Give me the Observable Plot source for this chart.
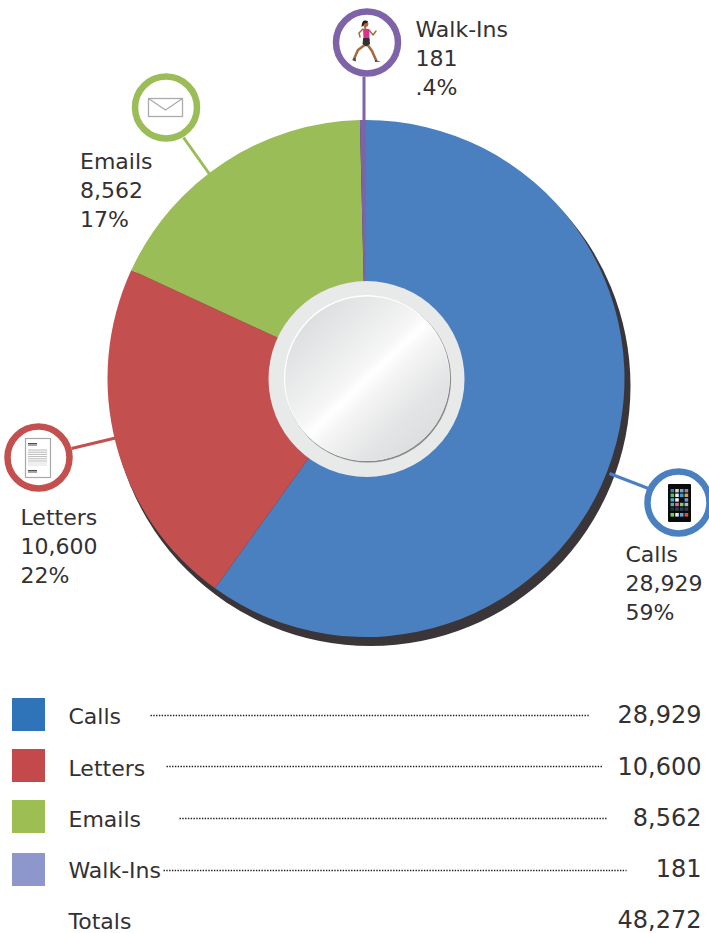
<!DOCTYPE html>
<html>
<head>
<meta charset="utf-8">
<script src="https://cdn.jsdelivr.net/npm/d3@7"></script>
<script src="https://cdn.jsdelivr.net/npm/@observablehq/plot@0.6"></script>
<style>
html,body{margin:0;padding:0;background:#fff;overflow:hidden}
svg{display:block}
</style>
</head>
<body>
<div id="chart"></div>
<script>
const categories = ["Calls", "Letters", "Emails", "Walk-Ins"];
const values = [28929, 10600, 8562, 181];
const valueLabels = ["28,929", "10,600", "8,562", "181"];
const percentLabels = ["59%", "22%", "17%", ".4%"];
const sliceColors = ["#4a80c0", "#c44f4f", "#9bbd58", "#7e63a9"];
const swatchColors = ["#2f73b8", "#c4494a", "#9cbe53", "#8e97cc"];
const totalLabel = "Totals";
const totalValue = "48,272";

const pieCenter = {x: 366, y: 378.5, r: 258.5};
const ringX = [678, 38, 165.5, 366.5];
const ringY = [502, 457, 107, 42];
const calloutX = [625, 20, 79.5, 415];
const calloutY = [541, 504, 148, 16];
const leaders = [[609, 473, 648, 488], [117, 437, 71, 448], [210, 175, 183, 137], [363.5, 122, 363.5, 76]];
const swatchTop = [698, 749, 800, 853];
const legendTextY = [716, 768, 819, 870, 921];
const legendValueY = [715, 767, 818, 869, 920];
const dotsY = [715, 766, 818, 870];
const dotsX1 = [150, 166, 179, 163];
const dotsX2 = [589, 602, 607, 626];

const rows = categories.map((name, i) => ({
  name, value: values[i], valueLabel: valueLabels[i], percent: percentLabels[i],
  color: sliceColors[i], swatch: swatchColors[i],
  ringX: ringX[i], ringY: ringY[i],
  calloutX: calloutX[i], calloutY: calloutY[i],
  callout: `${categories[i]}\n${valueLabels[i]}\n${percentLabels[i]}`,
  x1: leaders[i][0], y1: leaders[i][1], x2: leaders[i][2], y2: leaders[i][3],
  swatchTop: swatchTop[i], textY: legendTextY[i], valueY: legendValueY[i],
  dotsY: dotsY[i], dotsX1: dotsX1[i], dotsX2: dotsX2[i]
}));

const NS = "http://www.w3.org/2000/svg";
function el(tag, attrs, parent) {
  const n = document.createElementNS(NS, tag);
  for (const k in attrs) n.setAttribute(k, attrs[k]);
  if (parent) parent.appendChild(n);
  return n;
}

function defsMark() {
  const d = el("defs", {});
  const g = el("linearGradient", {id: "hub", x1: "0.12", y1: "0.1", x2: "0.88", y2: "0.9"}, d);
  [[0, "#dbdcde"], [0.3, "#eceded"], [0.44, "#f6f6f6"], [0.5, "#ffffff"], [0.58, "#f5f5f5"], [0.8, "#e3e4e5"], [1, "#dcdddf"]]
    .forEach(([o, c]) => el("stop", {offset: o, "stop-color": c}, g));
  return d;
}

function sliceMark(index, scales) {
  const g = el("g", {"aria-label": "slices"});
  const pie = d3.pie().sort(null).value(d => d.value)(rows);
  const arc = d3.arc().innerRadius(0).outerRadius(pieCenter.r);
  pie.forEach(p => {
    el("path", {
      d: arc(p),
      fill: p.data.color,
      transform: `translate(${scales.x(pieCenter.x)},${scales.y(pieCenter.y)})`
    }, g);
  });
  return g;
}

function iconMark() {
  const g = el("g", {"aria-label": "icons"});
  // envelope
  el("rect", {x: 148.5, y: 98.5, width: 34, height: 18, fill: "#fff", stroke: "#a9abae", "stroke-width": 1.3}, g);
  el("path", {d: "M148.5 98.5L165.5 110L182.5 98.5", fill: "none", stroke: "#a9abae", "stroke-width": 1.3}, g);
  // letter
  el("rect", {x: 25.5, y: 438.5, width: 25, height: 39, fill: "#fff", stroke: "#a8a8a8", "stroke-width": 1.2}, g);
  [443.5, 445].forEach(y => el("line", {x1: 28, x2: 37, y1: y, y2: y, stroke: "#222", "stroke-width": 0.8}, g));
  [470.5, 472].forEach(y => el("line", {x1: 28, x2: 37, y1: y, y2: y, stroke: "#222", "stroke-width": 0.8}, g));
  [450, 452.2, 454.4, 456.6, 458.8, 461, 463, 465].forEach((y, i) =>
    el("line", {x1: 28, x2: 47, y1: y, y2: y, stroke: i > 5 ? "#dcdcdc" : "#b0b0b0", "stroke-width": 0.9}, g));
  // phone
  el("rect", {x: 668, y: 484, width: 23, height: 38, rx: 1, fill: "#0b0b0b"}, g);
  const appColors = ["#4a7f8c", "#cfd4dc", "#7da0d8", "#8a8f99",
    "#55c06b", "#e8e8ee", "#3d9adb", "#d9a441",
    "#4fa8c8", "#f3f3f3", "#111", "#5f9fe0",
    "#4fb0a0", "#d36cb0", "#7acb7a", "#b0b7c6",
    "#20303c", "#30404c", "#30404c", "#30404c"];
  appColors.forEach((c, i) => {
    el("rect", {x: 670.5 + (i % 4) * 4.7, y: 489 + Math.floor(i / 4) * 4.6, width: 3.6, height: 3.4, fill: c}, g);
  });
  ["#6fcf5f", "#e6e6e6", "#58a8e8", "#e24a4a"].forEach((c, i) =>
    el("rect", {x: 670.5 + i * 4.7, y: 513, width: 3.6, height: 3.6, fill: c}, g));
  // runner
  const skin = "#a66a42";
  const s = (d, w = 2.2) => el("path", {d, fill: "none", stroke: skin, "stroke-width": w, "stroke-linecap": "round", "stroke-linejoin": "round"}, g);
  s("M366 44L358 50L354 59", 2.6);
  s("M367 44L372 51L376 60", 2.6);
  s("M363 29L359 33L360 37", 1.5);
  s("M369 30L373 35L376 31", 1.5);
  s("M365 26.5L365.5 29", 2);
  el("path", {d: "M363 29L369 29L369.5 38L363.5 38Z", fill: "#dd2f8e"}, g);
  el("path", {d: "M363.2 38L369.5 38L370 44L366 46.5L362.5 44Z", fill: "#33312f"}, g);
  el("circle", {cx: 365.5, cy: 24, r: 2.9, fill: skin}, g);
  el("path", {d: "M365 20.5C362.5 20.5 362 23 361.5 27C363 26 364 24.5 364.5 23.5C366 23.5 367.5 22.5 368 21.5C367 20.5 366 20.5 365 20.5Z", fill: "#2a1d18"}, g);
  el("path", {d: "M352 60L355.5 57.5L356 61.5Z", fill: "#444"}, g);
  el("path", {d: "M375 60L381 61.5L375 62Z", fill: "#444"}, g);
  return g;
}

const font = "'DejaVu Sans', Verdana, sans-serif";
const ink = "#333133";
const X = {domain: [0, 709], range: [0, 709], axis: null};
const Y = {domain: [0, 933], range: [0, 933], axis: null};

const chart = Plot.plot({
  width: 709,
  height: 933,
  margin: 0,
  x: X,
  y: Y,
  style: {background: "#fff", fontFamily: font, overflow: "hidden"},
  marks: [
    defsMark,
    // shadow crescent
    Plot.dot([pieCenter], {x: d => d.x + 4, y: d => d.y + 7, r: 260, fill: "#3a3538", stroke: "none"}),
    sliceMark,
    // leader lines
    Plot.link(rows, {x1: "x1", y1: "y1", x2: "x2", y2: "y2", stroke: "color", strokeWidth: 3}),
    // hub
    Plot.dot([pieCenter], {x: "x", y: "y", r: 98, fill: "#e8e9e9", stroke: "none"}),
    Plot.dot([pieCenter], {x: d => d.x + 1.4, y: d => d.y + 0.3, r: 83.2, fill: "#8b8b8d", stroke: "none"}),
    Plot.dot([pieCenter], {x: d => d.x + 0.4, y: d => d.y - 0.9, r: 83, fill: "#ffffff", stroke: "none"}),
    Plot.dot([pieCenter], {x: d => d.x + 0.8, y: d => d.y - 0.3, r: 82.2, fill: "url(#hub)", stroke: "none"}),
    // rings
    Plot.dot(rows, {x: "ringX", y: "ringY", r: 31, fill: "#fff", stroke: "color", strokeWidth: 6.5}),
    iconMark,
    // callouts
    Plot.text(rows, {
      x: "calloutX", y: "calloutY", text: "callout",
      textAnchor: "start", lineAnchor: "top", lineHeight: 1.31,
      fontSize: 22, fill: ink
    }),
    // legend
    Plot.rect(rows, {x1: 12, x2: 45, y1: "swatchTop", y2: d => d.swatchTop + 33, fill: "swatch"}),
    Plot.text(rows, {x: 68, y: "textY", text: "name", textAnchor: "start", fontSize: 22, fill: ink}),
    Plot.text(rows, {x: 701, y: "valueY", text: "valueLabel", textAnchor: "end", fontSize: 24, fill: ink}),
    Plot.link(rows, {x1: "dotsX1", x2: "dotsX2", y1: "dotsY", y2: "dotsY", stroke: "#231f20", strokeWidth: 1.4, strokeDasharray: "1.4 1.4"}),
    Plot.text([totalLabel], {x: 68, y: legendTextY[4], text: d => d, textAnchor: "start", fontSize: 22, fill: ink}),
    Plot.text([totalValue], {x: 701, y: legendValueY[4], text: d => d, textAnchor: "end", fontSize: 24, fill: ink})
  ]
});
document.getElementById("chart").appendChild(chart);
</script>
</body>
</html>
